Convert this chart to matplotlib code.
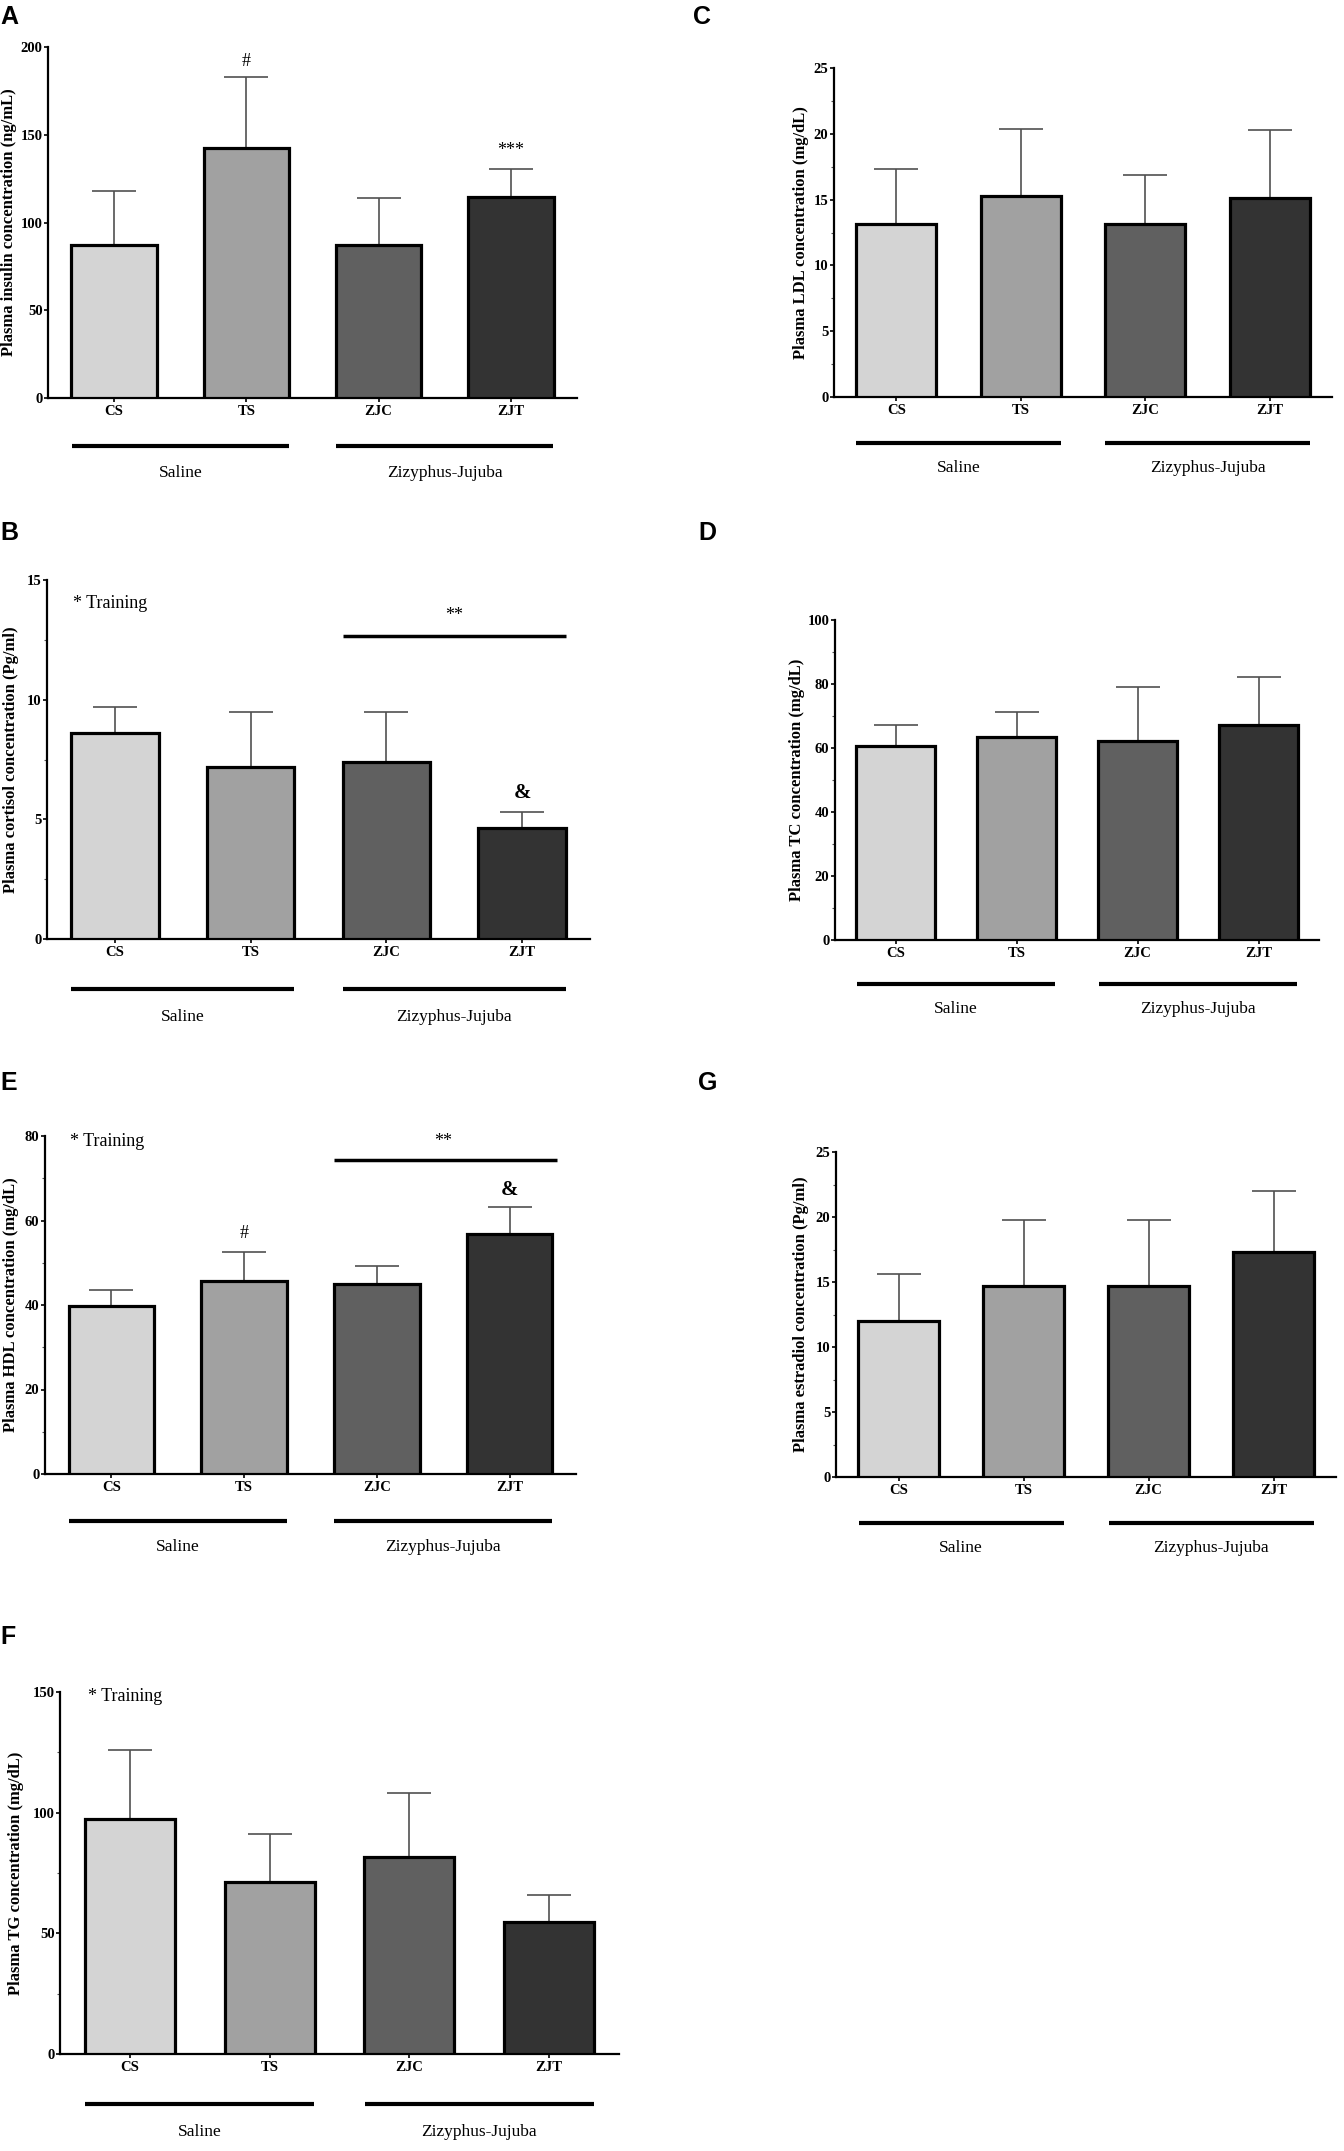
import matplotlib
matplotlib.use("Agg")
import matplotlib.pyplot as plt
import numpy as np
from matplotlib.transforms import blended_transform_factory

# ---------------- data ----------------
groups = ["CS", "TS", "ZJC", "ZJT"]
bar_colors = ["#d4d4d4", "#a1a1a1", "#606060", "#333333"]
group_names = ["Saline", "Zizyphus-Jujuba"]

insulin_mean = [87.3, 142.6, 87.3, 114.6]
insulin_upper = [118.2, 182.9, 113.8, 130.5]

ldl_mean = [13.15, 15.3, 13.15, 15.15]
ldl_upper = [17.35, 20.35, 16.9, 20.3]

cortisol_mean = [8.6, 7.17, 7.41, 4.63]
cortisol_upper = [9.68, 9.47, 9.47, 5.29]

tc_mean = [60.6, 63.5, 62.1, 67.2]
tc_upper = [67.2, 71.4, 79.2, 82.3]

hdl_mean = [39.8, 45.7, 44.9, 56.9]
hdl_upper = [43.5, 52.6, 49.2, 63.3]

estradiol_mean = [11.98, 14.7, 14.7, 17.3]
estradiol_upper = [15.65, 19.75, 19.75, 22.0]

tg_mean = [97.4, 71.4, 81.6, 54.9]
tg_upper = [125.9, 91.3, 108.3, 65.8]

W, H = 1344, 2151
DPI = 100
plt.rcParams["font.family"] = ["Liberation Serif", "DejaVu Serif"]

fig = plt.figure(figsize=(W / DPI, H / DPI), dpi=DPI)

SERIF = ["Liberation Serif", "DejaVu Serif"]
SANS = ["Liberation Sans", "DejaVu Sans"]


def make_panel(rect, letter, letter_xy, mean, upper, ylim, yticks, ylabel,
               offsets, ylabel_dx, minor=True):
    l, t, r, b = rect
    ax = fig.add_axes([l / W, 1 - b / H, (r - l) / W, (b - t) / H])
    x = np.arange(len(groups))
    mean = np.asarray(mean)
    upper = np.asarray(upper)
    ax.bar(x, mean, width=0.645, color=bar_colors, edgecolor="black",
           linewidth=2.3, zorder=3)
    ax.errorbar(x, mean, yerr=[np.zeros_like(mean), upper - mean], fmt="none",
                ecolor="#505050", elinewidth=1.2, capsize=15.5, capthick=1.2,
                zorder=2)
    ax.set_xlim(-0.5, 3.5)
    ax.set_ylim(*ylim)
    ax.set_yticks(yticks)
    ax.set_yticklabels([str(v) for v in yticks])
    if minor:
        mids = [(yticks[i] + yticks[i + 1]) / 2 for i in range(len(yticks) - 1)]
        ax.set_yticks(mids, minor=True)
        ax.tick_params(axis="y", which="minor", length=2.5, width=0.8,
                       color="#555555")
    ax.set_xticks(x)
    ax.set_xticklabels(groups)
    for s in ["top", "right"]:
        ax.spines[s].set_visible(False)
    for s in ["left", "bottom"]:
        ax.spines[s].set_linewidth(1.6)
    ax.tick_params(axis="y", which="major", length=3, width=1.2, pad=1,
                   labelsize=10.5)
    ax.tick_params(axis="x", which="major", length=3, width=1.2, pad=2,
                   labelsize=10.5)
    for lab in ax.get_yticklabels() + ax.get_xticklabels():
        lab.set_fontweight("bold")
        lab.set_family(SERIF)
    ax.set_ylabel(ylabel, fontsize=12, fontweight="bold", family=SERIF,
                  va="center")
    hpx = b - t
    ax.yaxis.set_label_coords(-ylabel_dx / (r - l), 0.5)
    # group lines and labels below the axis
    line_dy, text_dy = offsets
    tr_line = blended_transform_factory(ax.transData, ax.transAxes)
    ax.plot([-0.32, 1.32], [-line_dy / hpx] * 2, transform=tr_line,
            color="black", lw=3, clip_on=False, solid_capstyle="butt")
    ax.plot([1.68, 3.32], [-line_dy / hpx] * 2, transform=tr_line,
            color="black", lw=3, clip_on=False, solid_capstyle="butt")
    ax.text(0.5, -text_dy / hpx, group_names[0], transform=tr_line,
            ha="center", va="center", fontsize=12.5, family=SERIF)
    ax.text(2.5, -text_dy / hpx, group_names[1], transform=tr_line,
            ha="center", va="center", fontsize=12.5, family=SERIF)
    fig.text(letter_xy[0] / W, 1 - letter_xy[1] / H, letter, fontsize=18,
             fontweight="bold", family=SANS, ha="left", va="top")
    return ax


# Panel A
axA = make_panel((48, 47, 577, 398), "A", (0, 5), insulin_mean, insulin_upper,
                 (0, 200), [0, 50, 100, 150, 200],
                 "Plasma insulin concentration (ng/mL)", (48, 75), 39, minor=False)
axA.text(1, 192, "#", ha="center", va="center", fontsize=13)
axA.text(3, 141, "***", ha="center", va="center", fontsize=13)

# Panel C
axC = make_panel((834, 68, 1332, 397), "C", (693, 5), ldl_mean, ldl_upper,
                 (0, 25), [0, 5, 10, 15, 20, 25],
                 "Plasma LDL concentration (mg/dL)", (46, 71), 33)

# Panel B
axB = make_panel((47, 580, 590, 939), "B", (0, 521), cortisol_mean, cortisol_upper,
                 (0, 15), [0, 5, 10, 15],
                 "Plasma cortisol concentration (Pg/ml)", (50, 78), 36)
axB.text(-0.31, 14.0, "* Training", ha="left", va="center", fontsize=13)
axB.text(2.5, 13.5, "**", ha="center", va="center", fontsize=13)
axB.plot([1.68, 3.32], [12.67, 12.67], color="black", lw=2.5,
         solid_capstyle="butt")
axB.text(3, 6.1, "&", ha="center", va="center", fontsize=15, fontweight="bold")

# Panel D
axD = make_panel((835, 620, 1319, 940), "D", (698, 521), tc_mean, tc_upper,
                 (0, 100), [0, 20, 40, 60, 80, 100],
                 "Plasma TC concentration (mg/dL)", (44, 69), 38)

# Panel E
axE = make_panel((45, 1136, 576, 1474), "E", (0, 1071), hdl_mean, hdl_upper,
                 (0, 80), [0, 20, 40, 60, 80],
                 "Plasma HDL concentration (mg/dL)", (47, 73), 34)
axE.text(-0.31, 78.8, "* Training", ha="left", va="center", fontsize=13)
axE.text(2.5, 78.6, "**", ha="center", va="center", fontsize=13)
axE.plot([1.68, 3.36], [74.3, 74.3], color="black", lw=2.5,
         solid_capstyle="butt")
axE.text(1, 56.9, "#", ha="center", va="center", fontsize=13)
axE.text(3, 67.2, "&", ha="center", va="center", fontsize=15, fontweight="bold")

# Panel G
axG = make_panel((836, 1152, 1336, 1477), "G", (698, 1071), estradiol_mean,
                 estradiol_upper, (0, 25), [0, 5, 10, 15, 20, 25],
                 "Plasma estradiol concentration (Pg/ml)", (46, 71), 35)

# Panel F
axF = make_panel((60, 1692, 619, 2054), "F", (0, 1625), tg_mean, tg_upper,
                 (0, 150), [0, 50, 100, 150],
                 "Plasma TG concentration (mg/dL)", (50, 78), 44)
axF.text(-0.30, 148, "* Training", ha="left", va="center", fontsize=13)

fig.savefig("out.png", dpi=DPI)
